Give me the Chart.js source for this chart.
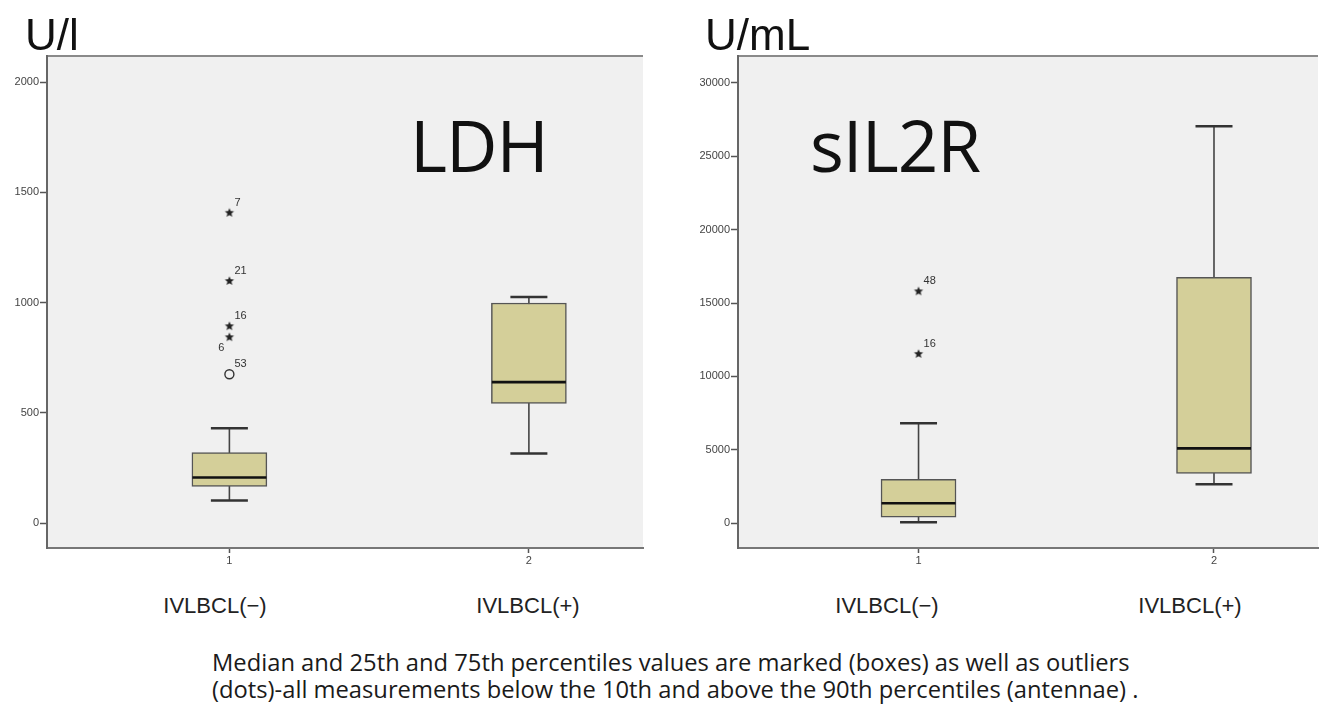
<!DOCTYPE html>
<html>
<head>
<meta charset="utf-8">
<script src="https://cdn.jsdelivr.net/npm/chart.js@4.4.1/dist/chart.umd.min.js"></script>
<style>
    html, body { margin: 0; padding: 0; background: #fff; }
    #page { position: relative; width: 1319px; height: 709px; overflow: hidden; }
    .chart-wrap { position: absolute; top: 0; height: 590px; }
    #ldh-wrap { left: 0; width: 660px; }
    #sil-wrap { left: 660px; width: 659px; }
    .txt { position: absolute; white-space: nowrap; line-height: 1; color: #111; }
    .unit { font-family: "Liberation Sans", Arial, sans-serif; font-size: 44px; top: 13px; }
    .big { font-family: "Open Sans", sans-serif; font-size: 71px; top: 109px; letter-spacing: -1px; }
    .group { font-family: "Liberation Sans Narrow", "Liberation Sans", sans-serif; font-size: 22px; top: 595px; transform: translateX(-50%); color: #222; }
    .caption { font-family: "Open Sans", sans-serif; font-size: 21px; left: 212px; color: #1a1a1a; }
</style>
</head>
<body>
<div id="page">
    <div class="chart-wrap" id="ldh-wrap"><canvas id="ldh-chart"></canvas></div>
    <div class="chart-wrap" id="sil-wrap"><canvas id="sil-chart"></canvas></div>

    <div class="txt unit" style="left:25px">U/l</div>
    <div class="txt unit" style="left:705px">U/mL</div>
    <div class="txt big" style="left:410px">LDH</div>
    <div class="txt big" style="left:810px">sIL2R</div>

    <div class="txt group" id="g1" style="left:215px"></div>
    <div class="txt group" id="g2" style="left:528px"></div>
    <div class="txt group" id="g3" style="left:887px"></div>
    <div class="txt group" id="g4" style="left:1190px"></div>

    <div class="txt caption" id="cap1" style="top:651px">Median and 25th and 75th percentiles values are marked (boxes) as well as outliers</div>
    <div class="txt caption" id="cap2" style="top:678px">(dots)-all measurements below the 10th and above the 90th percentiles (antennae) .</div>
</div>

<script>
// groups on the x axis
const GROUPS = [1, 2];
const GROUP_LABELS = ["IVLBCL(\u2212)", "IVLBCL(+)"];

// LDH (U/l)
const ldhLow = [102, 316];
const ldhQ1 = [166, 543];
const ldhMedian = [207, 639];
const ldhQ3 = [320, 998];
const ldhHigh = [430, 1025];
const ldhStars = [1407, 1098, 893, 843];
const ldhStarIds = ["7", "21", "16", "6"];
const ldhCircles = [675];
const ldhCircleIds = ["53"];
const ldhTicks = [0, 500, 1000, 1500, 2000];

// sIL2R (U/mL)
const silLow = [50, 2640];
const silQ1 = [400, 3390];
const silMedian = [1350, 5090];
const silQ3 = [2980, 16750];
const silHigh = [6800, 27050];
const silStars = [15800, 11530];
const silStarIds = ["48", "16"];
const silCircles = [];
const silCircleIds = [];
const silTicks = [0, 5000, 10000, 15000, 20000, 25000, 30000];

document.getElementById("g1").textContent = GROUP_LABELS[0];
document.getElementById("g2").textContent = GROUP_LABELS[1];
document.getElementById("g3").textContent = GROUP_LABELS[0];
document.getElementById("g4").textContent = GROUP_LABELS[1];

// fit the caption to the width it has in the original (first line ~918px)
const cap1 = document.getElementById("cap1");
const capSize = 21 * 918 / cap1.offsetWidth;
cap1.style.fontSize = capSize + "px";
document.getElementById("cap2").style.fontSize = capSize + "px";

const makeStar = (r) => {
    const c = document.createElement("canvas");
    const size = Math.ceil(r * 2) + 2;
    c.width = c.height = size;
    const g = c.getContext("2d");
    g.fillStyle = "#222";
    g.beginPath();
    for (let k = 0; k < 10; k++) {
        const rad = k % 2 ? r * 0.45 : r;
        const a = -Math.PI / 2 + (k * Math.PI) / 5;
        g.lineTo(size / 2 + rad * Math.cos(a), size / 2 + rad * Math.sin(a));
    }
    g.closePath();
    g.fill();
    return c;
};
const STAR = makeStar(4.8);

const panelBackground = {
    id: "panelBackground",
    beforeDraw(chart) {
        const { ctx, chartArea: a } = chart;
        ctx.save();
        ctx.fillStyle = "#f0f0f0";
        ctx.fillRect(a.left, a.top, a.right - a.left, a.bottom - a.top);
        ctx.strokeStyle = "#8a8a8a";
        ctx.lineWidth = 2;
        ctx.beginPath();
        ctx.moveTo(a.left, a.top);
        ctx.lineTo(a.right, a.top);
        ctx.stroke();
        ctx.restore();
    },
};

// case numbers next to the outliers
const outlierLabels = {
    id: "outlierLabels",
    afterDatasetsDraw(chart, args, opts) {
        const ctx = chart.ctx;
        ctx.save();
        ctx.font = "11px 'Liberation Sans', Arial, sans-serif";
        ctx.fillStyle = "#333";
        ctx.textBaseline = "middle";
        chart.data.datasets.forEach((ds, di) => {
            if (!ds.ids) return;
            chart.getDatasetMeta(di).data.forEach((pt, i) => {
                const id = ds.ids[i];
                if ((opts.below || []).includes(id)) {
                    ctx.textAlign = "right";
                    ctx.fillText(id, pt.x - 5, pt.y + 11);
                } else {
                    ctx.textAlign = "left";
                    ctx.fillText(id, pt.x + 5, pt.y - 10);
                }
            });
        });
        ctx.restore();
    },
};

const buildDatasets = (low, q1, med, q3, high, stars, starIds, circles, circleIds) => {
    const whiskers = GROUPS.map((g, i) => ({
        type: "line",
        data: [{ x: g, y: low[i] }, { x: g, y: high[i] }],
        borderColor: "#444",
        borderWidth: 1.6,
        pointRadius: 0,
        order: 6,
    }));
    return [
        ...whiskers,
        {
            type: "bar",
            data: GROUPS.map((g, i) => ({ x: g, y: [q1[i], q3[i]] })),
            backgroundColor: "#d4cf99",
            borderColor: "#555",
            borderWidth: 1.5,
            borderSkipped: false,
            barThickness: 75,
            order: 5,
        },
        {
            type: "scatter",
            data: GROUPS.flatMap((g, i) => [{ x: g, y: low[i] }, { x: g, y: high[i] }]),
            pointStyle: "line",
            pointRadius: 18.5,
            pointBorderWidth: 2.5,
            pointBorderColor: "#333",
            order: 4,
        },
        {
            type: "scatter",
            data: GROUPS.map((g, i) => ({ x: g, y: med[i] })),
            pointStyle: "line",
            pointRadius: 37,
            pointBorderWidth: 2.6,
            pointBorderColor: "#111",
            order: 3,
        },
        {
            type: "scatter",
            data: stars.map((v) => ({ x: GROUPS[0], y: v })),
            ids: starIds,
            pointStyle: STAR,
            pointRadius: 5,
            order: 2,
        },
        {
            type: "scatter",
            data: circles.map((v) => ({ x: GROUPS[0], y: v })),
            ids: circleIds,
            pointStyle: "circle",
            pointRadius: 4.5,
            pointBorderWidth: 1.4,
            pointBorderColor: "#333",
            pointBackgroundColor: "rgba(0,0,0,0)",
            order: 1,
        },
    ];
};

const tickFont = { family: "'Liberation Sans', Arial, sans-serif", size: 11 };

const makeChart = (canvasId, cfg) =>
    new Chart(document.getElementById(canvasId), {
        type: "bar",
        data: { datasets: cfg.datasets },
        plugins: [panelBackground, outlierLabels],
        options: {
            responsive: true,
            maintainAspectRatio: false,
            animation: false,
            events: [],
            layout: { autoPadding: false, padding: { top: 56, right: cfg.rightPad, left: 0, bottom: 0 } },
            plugins: {
                legend: { display: false },
                tooltip: { enabled: false },
                outlierLabels: { below: cfg.below },
            },
            scales: {
                x: {
                    type: "linear",
                    min: cfg.xMin,
                    max: cfg.xMax,
                    offset: false,
                    afterBuildTicks: (s) => { s.ticks = GROUPS.map((v) => ({ value: v })); },
                    afterFit: (s) => { s.height = 42; },
                    grid: { offset: false, drawOnChartArea: false, tickLength: 5, color: "#555", tickWidth: 1.5 },
                    border: { display: true, color: "#777", width: 2 },
                    ticks: { font: tickFont, color: "#444", padding: 1, callback: (v) => String(v) },
                },
                y: {
                    min: cfg.yMin,
                    max: cfg.yMax,
                    afterBuildTicks: (s) => { s.ticks = cfg.ticks.map((v) => ({ value: v })); },
                    afterFit: (s) => { s.width = cfg.yWidth; },
                    grid: { drawOnChartArea: false, tickLength: 7, color: "#555", tickWidth: 1.5 },
                    border: { display: true, color: "#666", width: 2 },
                    ticks: { font: tickFont, color: "#444", padding: 1, callback: (v) => String(v) },
                },
            },
        },
    });

makeChart("ldh-chart", {
    datasets: buildDatasets(ldhLow, ldhQ1, ldhMedian, ldhQ3, ldhHigh, ldhStars, ldhStarIds, ldhCircles, ldhCircleIds),
    ticks: ldhTicks,
    yMin: -113, yMax: 2118,
    xMin: 0.391, xMax: 2.381,
    yWidth: 47, rightPad: 17,
    below: ["6"],
});

makeChart("sil-chart", {
    datasets: buildDatasets(silLow, silQ1, silMedian, silQ3, silHigh, silStars, silStarIds, silCircles, silCircleIds),
    ticks: silTicks,
    yMin: -1700, yMax: 31840,
    xMin: 0.389, xMax: 2.352,
    yWidth: 78, rightPad: 1,
    below: [],
});
</script>
</body>
</html>
